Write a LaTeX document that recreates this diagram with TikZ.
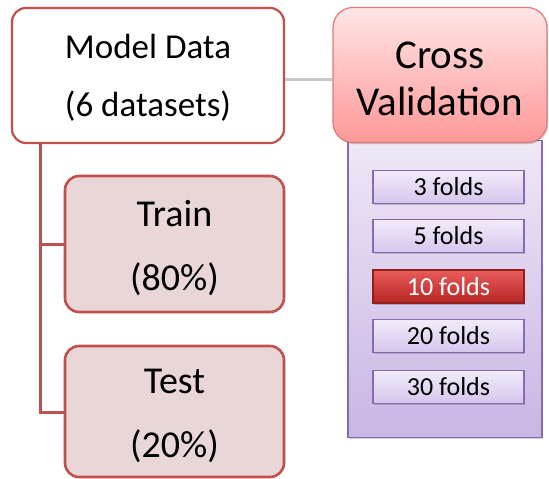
\documentclass[tikz,border=0pt]{standalone}
\usepackage{fontspec}
\setmainfont{Carlito}
\usetikzlibrary{shadows}
\definecolor{brick}{RGB}{192,80,77}
\definecolor{rosefill}{RGB}{233,214,214}
\definecolor{cvtop}{RGB}{255,230,230}
\definecolor{cvbot}{RGB}{255,152,152}
\definecolor{cvline}{RGB}{228,120,120}
\definecolor{lavtop}{RGB}{238,232,246}
\definecolor{lavbot}{RGB}{200,182,228}
\definecolor{lavline}{RGB}{136,106,178}
\definecolor{foldtop}{RGB}{242,236,250}
\definecolor{foldbot}{RGB}{212,198,236}
\definecolor{redtop}{RGB}{232,92,90}
\definecolor{redbot}{RGB}{182,38,36}
\definecolor{linkgray}{RGB}{200,200,200}
% tall invisible strut that lowers the text block a little
\newcommand{\lowstrut}[1]{\rule{0pt}{#1}}
\tikzset{
  softshadow/.style={drop shadow={shadow xshift=1.2pt,shadow yshift=-1.6pt,opacity=0.18,fill=black}},
  databox/.style={draw=brick,line width=2.2pt,rounded corners=14pt,fill=white,align=center,
    font=\fontsize{35}{58}\selectfont,inner sep=0pt},
  splitbox/.style={draw=brick,line width=2.6pt,rounded corners=14pt,fill=rosefill,align=center,
    font=\fontsize{38}{64}\selectfont,inner sep=0pt},
  cvbox/.style={draw=cvline,line width=1.2pt,rounded corners=20pt,top color=cvtop,bottom color=cvbot,
    align=center,font=\fontsize{41}{47}\selectfont,inner sep=0pt,softshadow},
  panel/.style={draw=lavline,line width=1.6pt,top color=lavtop,bottom color=lavbot,softshadow},
  foldbox/.style={draw=lavline,line width=1.6pt,top color=foldtop,bottom color=foldbot,
    minimum width=151pt,minimum height=33pt,inner sep=0pt,font=\fontsize{26}{30}\selectfont,softshadow},
  foldpick/.style={foldbox,draw=redbot!80!black,top color=redtop,bottom color=redbot,text=white},
  trunk/.style={draw=brick,line width=3pt},
  link/.style={draw=linkgray,line width=3pt}
}
\begin{document}
\begin{tikzpicture}[x=1pt,y=-1pt]
\useasboundingbox[fill=white] (0,0) rectangle (549,479);

% tree trunk from the data box to the two splits
\coordinate (tTop) at (40,143);
\coordinate (tMid) at (40,244);
\coordinate (tBot) at (40,412);

% fold options panel
\node[panel,minimum width=194pt,minimum height=297pt,inner sep=0pt] (pnl) at (445,289) {};

\foreach \n/\y/\t in {f3/187/3 folds,f5/236/5 folds,f20/336/20 folds,f30/387/30 folds}
  \node[foldbox] (\n) at (448.5,\y) {\t};
\node[foldpick] (f10) at (448.5,286.5) {10 folds};

% main boxes
\node[databox,minimum width=272pt,minimum height=135pt] (md) at (148,75.5) {\lowstrut{29pt}Model Data\\(6 datasets)};
\node[splitbox,minimum width=219pt,minimum height=136pt] (tr) at (174.5,244) {\lowstrut{34pt}Train\\(80\%)};
\node[splitbox,minimum width=219pt,minimum height=131pt] (te) at (174.5,411.5) {\lowstrut{34pt}Test\\(20\%)};
\node[cvbox,minimum width=214pt,minimum height=135pt] (cv) at (440,75) {\lowstrut{34pt}Cross\\Validation};

% connectors
\draw[link] (md.east |- 0,79) -- (cv.west |- 0,79);
\draw[trunk] (md.south -| tTop) -- (tBot) -- (te.west |- tBot);
\draw[trunk] (tMid) -- (tr.west |- tMid);
\end{tikzpicture}
\end{document}
